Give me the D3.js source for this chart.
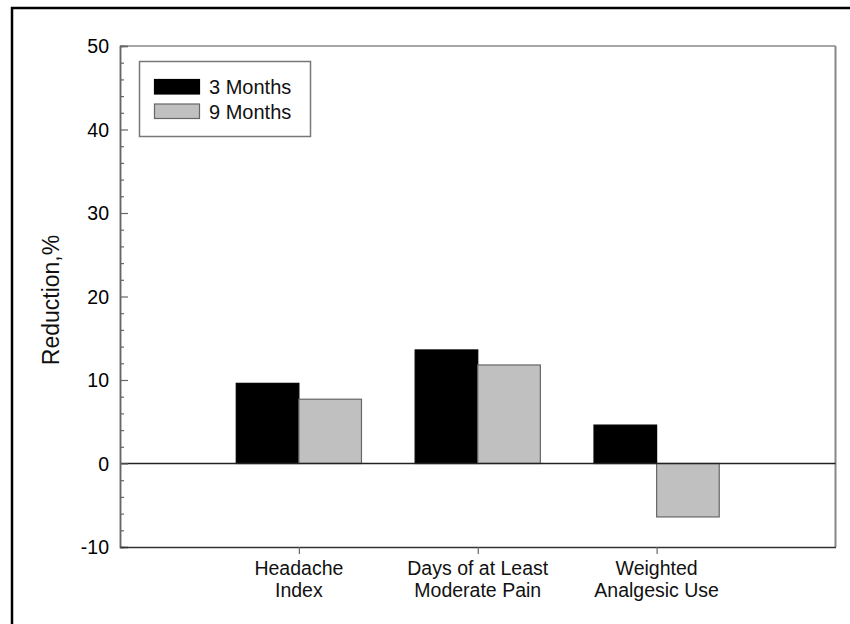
<!DOCTYPE html>
<html><head><meta charset="utf-8">
<script src="https://cdn.jsdelivr.net/npm/d3@7"></script>
<style>body{margin:0;background:#fff;}svg{display:block;font-family:"Liberation Sans",Arial,sans-serif;}</style>
</head><body>
<script>
const categories = [["Headache","Index"],["Days of at Least","Moderate Pain"],["Weighted","Analgesic Use"]];
const seriesNames = ["3 Months","9 Months"];
const months3 = [9.6, 13.6, 4.6];
const months9 = [7.7, 11.8, -6.4];
const yTicks = [-10, 0, 10, 20, 30, 40, 50];
const yMinor = [-8,-6,-4,-2,2,4,6,8,12,14,16,18,22,24,26,28,32,34,36,38,42,44,46,48];

const W = 850, H = 624;
const svg = d3.select("body").append("svg").attr("width", W).attr("height", H);

// outer border
svg.append("rect").attr("x", 12).attr("y", 8).attr("width", W + 20).attr("height", H + 20)
  .attr("fill", "none").attr("stroke", "#000").attr("stroke-width", 2.5);

const L = 120, R = 835.5, T = 46, B = 547;
const x = d3.scaleLinear().domain([0, 4]).range([L, R]);
const y = d3.scaleLinear().domain([-10, 50]).range([B, T]);
const bw = 0.35;

const series = [
  {name: seriesNames[0], vals: months3, fill: "#000", stroke: "#000", off: -bw},
  {name: seriesNames[1], vals: months9, fill: "#c0c0c0", stroke: "#666", off: 0}
];

// bars
series.forEach(s => {
  svg.append("g").selectAll("rect").data(s.vals).join("rect")
    .attr("x", (d, i) => x(i + 1 + s.off))
    .attr("width", x(bw) - x(0))
    .attr("y", d => y(Math.max(0, d)))
    .attr("height", d => Math.abs(y(d) - y(0)))
    .attr("fill", s.fill).attr("stroke", s.stroke).attr("stroke-width", 1.2);
});

// frame: top & right gray
svg.append("line").attr("x1", L).attr("x2", R).attr("y1", T).attr("y2", T).attr("stroke", "#888").attr("stroke-width", 1.5);
svg.append("line").attr("x1", R).attr("x2", R).attr("y1", T).attr("y2", B).attr("stroke", "#888").attr("stroke-width", 2);
// zero line
svg.append("line").attr("x1", L).attr("x2", R).attr("y1", y(0)).attr("y2", y(0)).attr("stroke", "#222").attr("stroke-width", 1.3);

// y axis (ticks inward)
const ya = svg.append("g").attr("transform", `translate(${L},0)`)
  .call(d3.axisRight(y).tickValues(yTicks).tickSize(8).tickFormat(""));
const ym = svg.append("g").attr("transform", `translate(${L},0)`)
  .call(d3.axisRight(y).tickValues(yMinor).tickSize(4).tickFormat(""));
[ya, ym].forEach(g => { g.selectAll("path").attr("stroke", "#666").attr("stroke-width", 1.5); g.selectAll("line").attr("stroke", "#666").attr("stroke-width", 1.2); });

svg.append("g").selectAll("text").data(yTicks).join("text")
  .attr("x", L - 11).attr("y", d => y(d)).attr("dy", "0.36em")
  .attr("text-anchor", "end").attr("font-size", 19.5).attr("fill", "#000").text(d => d);

// x axis
const xa = svg.append("g").attr("transform", `translate(0,${B})`)
  .call(d3.axisBottom(x).tickValues([1, 2, 3]).tickSize(7).tickSizeOuter(0).tickFormat(""));
xa.selectAll("path").attr("stroke", "#333").attr("stroke-width", 1.5);
xa.selectAll("line").attr("stroke", "#666").attr("stroke-width", 1.2);

const cl = svg.append("g").selectAll("text").data(categories).join("text")
  .attr("x", (d, i) => x(i + 1)).attr("y", 575)
  .attr("text-anchor", "middle").attr("font-size", 19.5).attr("fill", "#111");
cl.each(function(d, i) {
  d.forEach((line, j) => {
    d3.select(this).append("tspan").attr("x", x(i + 1)).attr("y", 575 + j * 22).text(line);
  });
});

// y label
svg.append("text").attr("transform", "translate(59,300) rotate(-90)")
  .attr("text-anchor", "middle").attr("font-size", 23).attr("fill", "#111").text("Reduction,%");

// legend
svg.append("rect").attr("x", 139.5).attr("y", 61.5).attr("width", 171).attr("height", 75)
  .attr("fill", "#fff").attr("stroke", "#777").attr("stroke-width", 1.5);
series.forEach((s, i) => {
  svg.append("rect").attr("x", 154.5).attr("y", 79.5 + i * 24.5).attr("width", 45).attr("height", 14.5)
    .attr("fill", s.fill).attr("stroke", s.stroke).attr("stroke-width", 1.2);
  svg.append("text").attr("x", 209).attr("y", 87 + i * 24.5).attr("dy", "0.36em")
    .attr("font-size", 20).attr("fill", "#111").text(s.name);
});
</script>
</body></html>
